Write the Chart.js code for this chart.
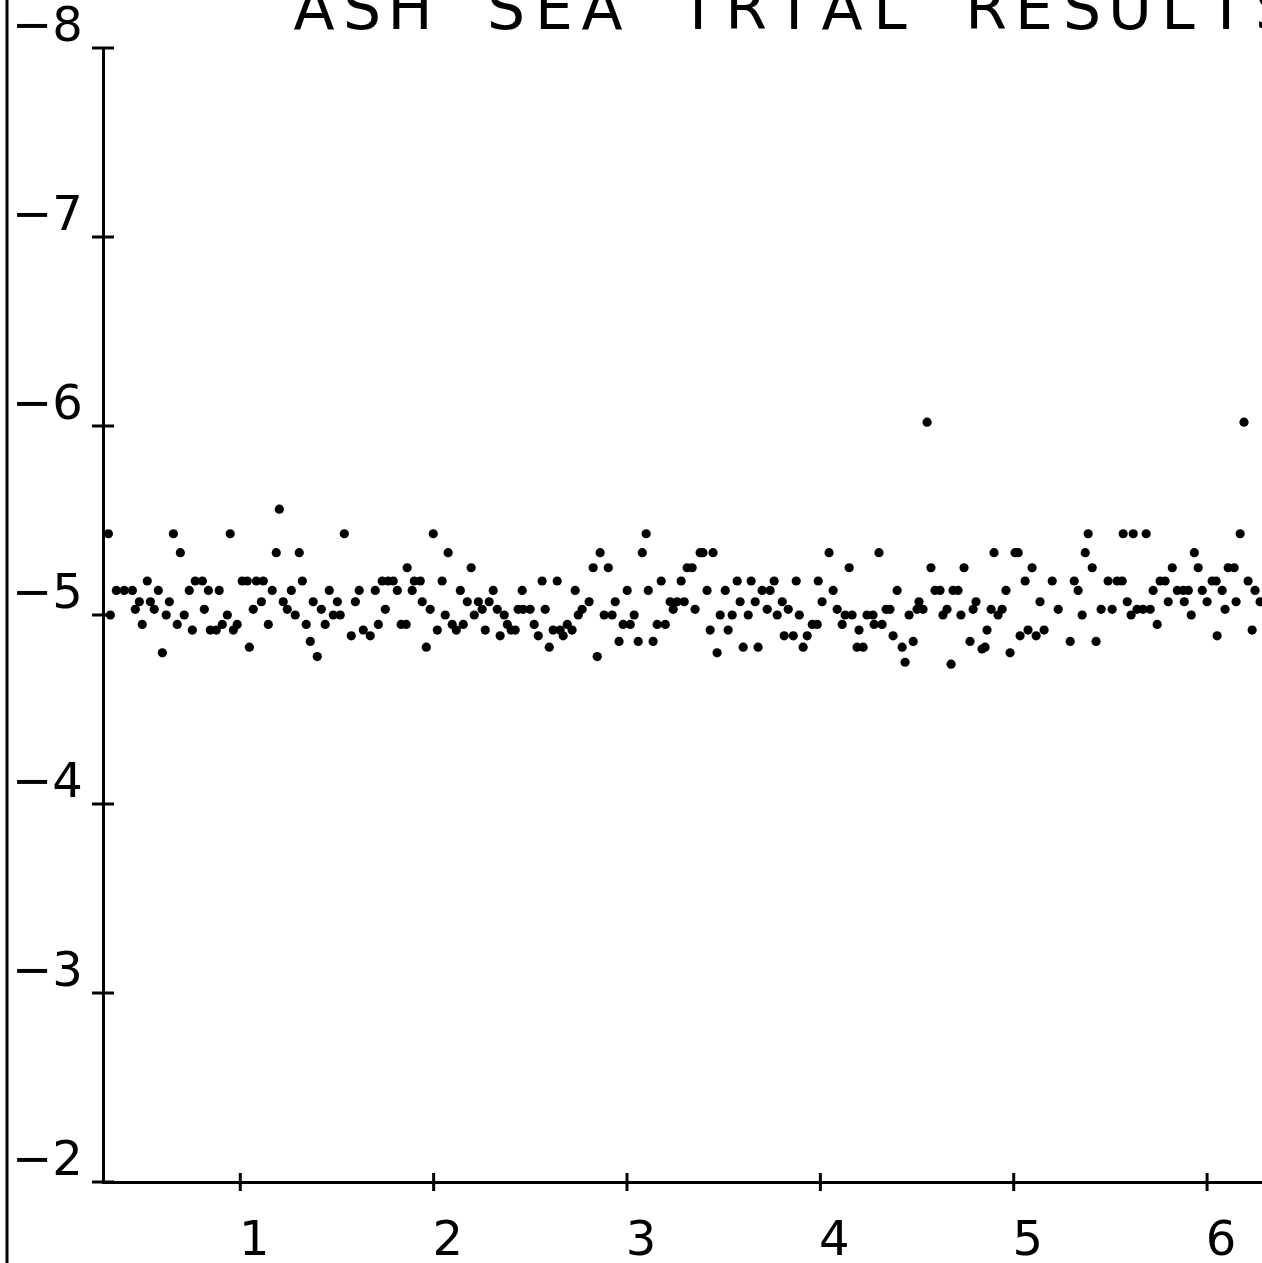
<!DOCTYPE html>
<html><head><meta charset="utf-8">
<script src="https://cdn.jsdelivr.net/npm/chart.js@4.4.1/dist/chart.umd.min.js"></script>
<style>html,body{margin:0;padding:0;background:#fff;}canvas{display:block;}</style>
</head><body>
<canvas id="c" width="1262" height="1263"></canvas>
<script>
const titleText = "ASH SEA TRIAL RESULTS";
const xTickValues = [1, 2, 3, 4, 5, 6];
const yTickValues = [-8, -7, -6, -5, -4, -3, -2];
const xRange = [0.29, 6.284];
const yRange = [-8, -2];

const trialX = [
 0.318,0.328,0.359,0.400,0.442,0.457,0.478,0.493,0.519,0.535,0.555,0.576,0.597,0.617,0.633,0.654,0.674,0.690,0.710,0.736,
 0.752,0.767,0.804,0.814,0.835,0.845,0.876,0.891,0.907,0.933,0.948,0.964,0.984,1.010,1.036,1.047,1.067,1.083,1.119,1.109,
 1.145,1.165,1.186,1.202,1.222,1.243,1.264,1.284,1.305,1.321,1.341,1.362,1.377,1.398,1.419,1.439,1.460,1.481,1.502,1.517,
 1.538,1.574,1.595,1.615,1.636,1.672,1.698,1.714,1.734,1.750,1.765,1.791,1.812,1.832,1.858,1.863,1.889,1.900,1.931,1.941,
 1.962,1.982,1.998,2.019,2.044,2.060,2.075,2.096,2.117,2.138,2.153,2.174,2.194,2.210,2.231,2.251,2.267,2.287,2.308,2.329,
 2.344,2.365,2.381,2.401,2.422,2.437,2.463,2.499,2.458,2.520,2.541,2.561,2.577,2.598,2.618,2.639,2.654,2.670,2.691,2.716,
 2.732,2.748,2.768,2.804,2.825,2.846,2.861,2.882,2.923,2.903,2.939,2.959,2.980,3.017,3.001,3.037,3.058,3.079,3.099,3.110,
 3.135,3.156,3.198,3.177,3.223,3.259,3.239,3.280,3.296,3.311,3.337,3.352,3.378,3.393,3.445,3.414,3.430,3.466,3.482,3.544,
 3.508,3.523,3.570,3.585,3.601,3.627,3.642,3.663,3.678,3.699,3.740,3.725,3.761,3.777,3.803,3.813,3.860,3.834,3.875,3.891,
 3.911,3.932,3.958,3.984,3.989,4.009,4.045,4.066,4.087,4.113,4.128,4.164,4.149,4.190,4.221,4.200,4.241,4.272,4.278,4.319,
 4.303,4.340,4.360,4.376,4.397,4.423,4.438,4.459,4.480,4.500,4.531,4.510,4.572,4.593,4.619,4.634,4.655,4.676,4.686,4.712,
 4.727,4.743,4.774,4.790,4.805,4.836,4.852,4.862,4.883,4.898,4.919,4.940,4.960,4.981,5.007,5.023,5.033,5.059,5.074,5.095,
 5.116,5.136,5.157,5.199,5.230,5.292,5.313,5.333,5.354,5.370,5.385,5.406,5.426,5.452,5.488,5.535,5.561,5.509,5.566,5.618,
 5.685,5.587,5.607,5.638,5.669,5.706,5.721,5.742,5.757,5.783,5.799,5.820,5.846,5.877,5.903,5.882,5.918,5.934,5.954,5.975,
 6.000,6.026,6.047,6.052,6.078,6.093,6.109,6.140,6.150,6.171,6.212,6.233,6.248,6.274,4.552,6.191
];
const trialY = [
 -5.43,-5.00,-5.13,-5.13,-5.13,-5.03,-5.07,-4.95,-5.18,-5.07,-5.03,-5.13,-4.80,-5.00,-5.07,-5.43,-4.95,-5.33,-5.00,-5.13,
 -4.92,-5.18,-5.18,-5.03,-5.13,-4.92,-4.92,-5.13,-4.95,-5.00,-5.43,-4.92,-4.95,-5.18,-5.18,-4.83,-5.03,-5.18,-5.18,-5.07,
 -4.95,-5.13,-5.33,-5.56,-5.07,-5.03,-5.13,-5.00,-5.33,-5.18,-4.95,-4.86,-5.07,-4.78,-5.03,-4.95,-5.13,-5.00,-5.07,-5.00,
 -5.43,-4.89,-5.07,-5.13,-4.92,-4.89,-5.13,-4.95,-5.18,-5.03,-5.18,-5.18,-5.13,-4.95,-4.95,-5.25,-5.13,-5.18,-5.18,-5.07,
 -4.83,-5.03,-5.43,-4.92,-5.18,-5.00,-5.33,-4.95,-4.92,-5.13,-4.95,-5.07,-5.25,-5.00,-5.07,-5.03,-4.92,-5.07,-5.13,-5.03,
 -4.89,-5.00,-4.95,-4.92,-4.92,-5.03,-5.03,-5.03,-5.13,-4.95,-4.89,-5.18,-5.03,-4.83,-4.92,-5.18,-4.92,-4.89,-4.95,-4.92,
 -5.13,-5.00,-5.03,-5.07,-5.25,-4.78,-5.33,-5.00,-5.00,-5.25,-5.07,-4.86,-4.95,-4.95,-5.13,-5.00,-4.86,-5.33,-5.43,-5.13,
 -4.86,-4.95,-4.95,-5.18,-5.07,-5.07,-5.03,-5.18,-5.07,-5.25,-5.25,-5.03,-5.33,-5.33,-5.33,-5.13,-4.92,-4.80,-5.00,-5.00,
 -5.13,-4.92,-5.18,-5.07,-4.83,-5.00,-5.18,-5.07,-4.83,-5.13,-5.13,-5.03,-5.18,-5.00,-5.07,-4.89,-4.89,-5.03,-5.18,-5.00,
 -4.83,-4.89,-4.95,-4.95,-5.18,-5.07,-5.33,-5.13,-5.03,-4.95,-5.00,-5.00,-5.25,-4.83,-4.83,-4.92,-5.00,-5.00,-4.95,-4.95,
 -5.33,-5.03,-5.03,-4.89,-5.13,-4.83,-4.75,-5.00,-4.86,-5.03,-5.03,-5.07,-5.25,-5.13,-5.13,-5.00,-5.03,-4.74,-5.13,-5.13,
 -5.00,-5.25,-4.86,-5.03,-5.07,-4.82,-4.83,-4.92,-5.03,-5.33,-5.00,-5.03,-5.13,-4.80,-5.33,-5.33,-4.89,-5.18,-4.92,-5.25,
 -4.89,-5.07,-4.92,-5.18,-5.03,-4.86,-5.18,-5.13,-5.00,-5.33,-5.43,-5.25,-4.86,-5.03,-5.18,-5.18,-5.18,-5.03,-5.43,-5.43,
 -5.43,-5.07,-5.00,-5.03,-5.03,-5.03,-5.13,-4.95,-5.18,-5.18,-5.07,-5.25,-5.13,-5.13,-5.13,-5.07,-5.00,-5.33,-5.25,-5.13,
 -5.07,-5.18,-5.18,-4.89,-5.13,-5.03,-5.25,-5.25,-5.07,-5.43,-5.18,-4.92,-5.13,-5.07,-6.02,-6.02
];

const INK = '#000';
const FONT_FAMILY = '"DejaVu Sans", sans-serif';

const decorPlugin = {
  id: 'decor',
  afterDraw(chart) {
    const ctx = chart.ctx;
    const xs = chart.scales.x, ys = chart.scales.y;
    const ca = chart.chartArea;
    ctx.save();
    ctx.strokeStyle = INK;
    ctx.lineWidth = 3;
    ctx.beginPath();
    ctx.moveTo(7, 0); ctx.lineTo(7, chart.height);
    ctx.stroke();
    yTickValues.forEach(v => {
      const py = ys.getPixelForValue(v);
      ctx.beginPath();
      ctx.moveTo(ca.left - 11, py); ctx.lineTo(ca.left + 11, py);
      ctx.stroke();
    });
    xTickValues.forEach(v => {
      const px = xs.getPixelForValue(v);
      ctx.beginPath();
      ctx.moveTo(px, ca.bottom - 9); ctx.lineTo(px, ca.bottom + 9);
      ctx.stroke();
    });
    ctx.fillStyle = INK;
    ctx.font = '400 60px ' + FONT_FAMILY;
    ctx.textAlign = 'center';
    ctx.textBaseline = 'alphabetic';
    const pitch = 48, startX = 297;
    for (let i = 0; i < titleText.length; i++) {
      const ch = titleText[i];
      if (ch === ' ') continue;
      ctx.fillText(ch, startX + 17 + i * pitch, 29);
    }
    ctx.restore();
  }
};

const tickFont = { family: FONT_FAMILY, size: 48, weight: 400 };

new Chart(document.getElementById('c'), {
  type: 'scatter',
  data: {
    datasets: [{
      data: trialX.map((x, i) => ({ x: x, y: trialY[i] })),
      backgroundColor: INK,
      borderWidth: 0,
      pointRadius: 4.6,
      pointHoverRadius: 4.6,
      pointStyle: 'circle',
      clip: false
    }]
  },
  options: {
    responsive: false,
    animation: false,
    devicePixelRatio: 1,
    layout: { autoPadding: false, padding: { left: 12, top: 48, right: 0, bottom: 0 } },
    plugins: { legend: { display: false }, tooltip: { enabled: false }, title: { display: false } },
    scales: {
      x: {
        type: 'linear',
        min: xRange[0], max: xRange[1],
        afterBuildTicks: s => { s.ticks = xTickValues.map(v => ({ value: v })); },
        afterFit: s => { s.height = 81; s.paddingLeft = 0; s.paddingRight = 0; },
        grid: { display: true, drawOnChartArea: false, drawTicks: false },
        border: { display: true, color: INK, width: 3 },
        ticks: {
          color: INK, font: tickFont, padding: 32, labelOffset: 14,
          maxRotation: 0, autoSkip: false,
          callback: v => String(v)
        }
      },
      y: {
        type: 'linear',
        reverse: true,
        min: yRange[0], max: yRange[1],
        afterBuildTicks: s => { s.ticks = yTickValues.map(v => ({ value: v })); },
        afterFit: s => { s.width = 91; s.paddingTop = 0; s.paddingBottom = 0; },
        grid: { display: true, drawOnChartArea: false, drawTicks: false },
        border: { display: true, color: INK, width: 3 },
        ticks: {
          color: INK, font: tickFont, crossAlign: 'far', labelOffset: -19,
          autoSkip: false,
          callback: v => '\u2212' + Math.abs(v)
        }
      }
    }
  },
  plugins: [decorPlugin]
});
</script>
</body></html>
